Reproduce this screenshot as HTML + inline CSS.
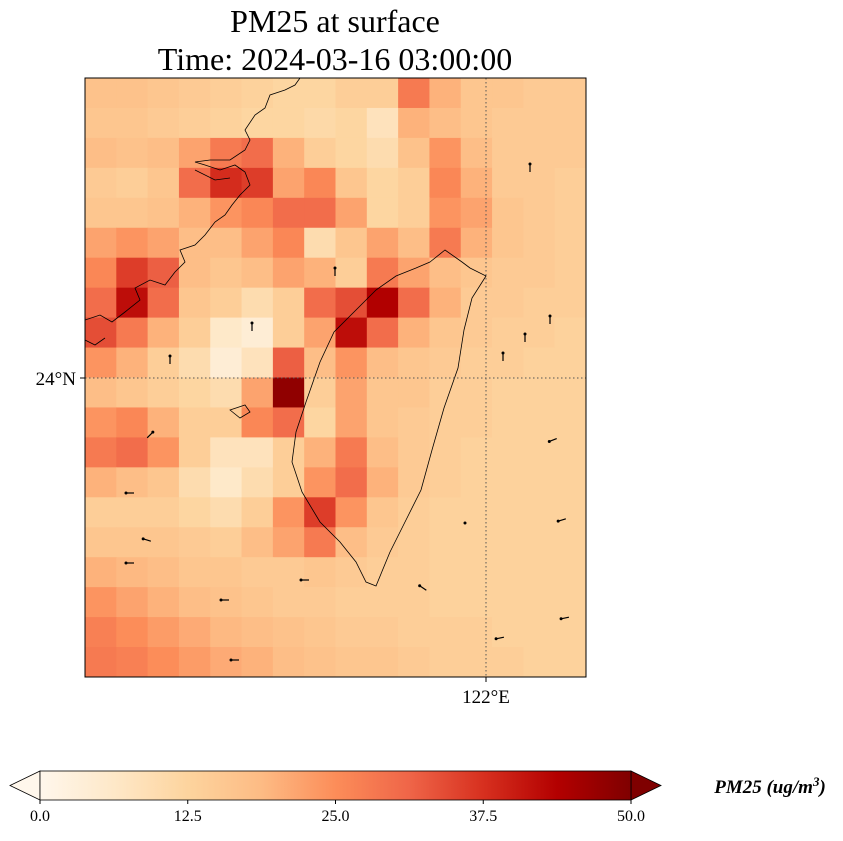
<!DOCTYPE html>
<html><head><meta charset="utf-8"><style>
body{margin:0;background:#fff;width:843px;height:836px;overflow:hidden;font-family:"Liberation Serif",serif;}
svg text{font-family:"Liberation Serif",serif;}
</style></head><body>
<svg id="chart" width="843" height="836" xmlns="http://www.w3.org/2000/svg">
<defs>
<linearGradient id="cbg" x1="0" x2="1" y1="0" y2="0">
<stop offset="0" stop-color="#fff7ec"/><stop offset="0.125" stop-color="#fee8c8"/>
<stop offset="0.25" stop-color="#fdd49e"/><stop offset="0.375" stop-color="#fdbb84"/>
<stop offset="0.5" stop-color="#fc8d59"/><stop offset="0.625" stop-color="#ef6548"/>
<stop offset="0.75" stop-color="#d7301f"/><stop offset="0.875" stop-color="#b30000"/>
<stop offset="1" stop-color="#7f0000"/></linearGradient>
<clipPath id="mapclip"><rect x="85" y="78" width="501" height="599"/></clipPath>
</defs>
<text x="335" y="32" font-size="32" text-anchor="middle">PM25 at surface</text>
<text x="335" y="70" font-size="32" text-anchor="middle">Time: 2024-03-16 03:00:00</text>
<g id="cells" clip-path="url(#mapclip)"></g>
<g clip-path="url(#mapclip)" fill="none" stroke="#000" stroke-width="0.8">
<path d="M430,262 L445,250 L462,262 L470,268 L486,276 L472,298 L464,330 L458,368 L444,408 L432,450 L421,490 L405,522 L390,552 L376,586 L366,582 L356,562 L340,542 L320,522 L302,492 L292,462 L296,432 L306,402 L320,362 L334,332 L356,310 L376,290 L396,276 L416,268 Z"/>
<path d="M85,320 L100,315 L112,322 L125,312 L140,300 L135,288 L150,280 L165,285 L175,272 L185,262 L180,250 L195,245 L205,235 L215,222 L225,215 L232,205 L240,195 L250,185 L245,172 L235,165 L220,170 L205,165 L195,162 L210,160 L230,160 L245,150 L250,140 L245,130 L255,115 L265,108 L270,95 L285,90 L295,85 L300,78 M85,340 L95,345 L105,338 M230,410 L240,418 L250,412 L245,405 Z M195,170 L215,180 L230,178"/>
</g>
<g id="arrows" clip-path="url(#mapclip)"></g>
<line x1="486" y1="78" x2="486" y2="677" stroke="#555" stroke-width="1" stroke-dasharray="1.5,2.5"/>
<line x1="85" y1="378" x2="586" y2="378" stroke="#555" stroke-width="1" stroke-dasharray="1.5,2.5"/>
<rect x="85" y="78" width="501" height="599" fill="none" stroke="#000" stroke-width="1"/>
<line x1="80" y1="378" x2="85" y2="378" stroke="#000"/>
<text x="76" y="385" font-size="19" text-anchor="end">24°N</text>
<line x1="486" y1="677" x2="486" y2="682" stroke="#000"/>
<text x="486" y="703" font-size="19" text-anchor="middle">122°E</text>
<g>
<polygon points="40,771 10,785.5 40,800" fill="#fff7ec" stroke="#000" stroke-width="0.8"/>
<polygon points="631,771 661,785.5 631,800" fill="#7f0000" stroke="#000" stroke-width="0.8"/>
<rect x="40" y="771" width="591" height="29" fill="url(#cbg)" stroke="#000" stroke-width="0.8"/>
<g id="cbticks"></g>
<text x="770" y="793" font-size="19" font-weight="bold" font-style="italic" text-anchor="middle">PM25 (ug/m<tspan dy="-7" font-size="13">3</tspan><tspan dy="7">)</tspan></text>
</g>
</svg>
<script>
const gridValues = [
[17,17,16,15,14,13,12,12,14,14,28,20,16,16,15,15],
[16,16,15,14,13,12,12,11,12,8,20,18,16,15,15,15],
[18,17,18,22,28,30,20,14,12,10,17,24,18,15,15,15],
[15,14,16,30,38,36,22,26,16,12,14,26,20,15,15,14],
[16,16,17,20,24,26,30,30,22,12,14,24,22,16,15,14],
[22,24,22,18,18,22,26,10,16,22,18,28,20,16,15,14],
[26,36,32,18,16,18,22,20,14,28,22,18,16,15,15,14],
[30,42,30,16,14,10,14,30,34,44,30,20,15,15,14,14],
[34,28,20,14,6,4,14,22,42,30,20,16,15,14,14,13],
[24,20,14,10,4,8,32,18,24,18,16,15,14,14,13,13],
[18,16,14,12,10,22,48,14,22,16,16,14,14,13,13,13],
[24,26,20,14,14,26,30,12,22,16,15,14,14,13,13,13],
[28,30,24,14,8,8,14,20,28,18,15,14,13,13,13,13],
[20,18,16,10,6,10,14,24,30,20,15,14,13,13,13,13],
[14,14,14,12,10,14,24,36,24,16,14,13,13,13,13,13],
[16,16,16,15,14,18,22,28,18,15,14,13,13,13,13,13],
[20,19,18,16,16,15,15,16,15,14,14,13,13,13,13,13],
[24,22,20,18,17,16,15,15,14,14,14,13,13,13,13,13],
[27,25,23,21,19,18,17,16,15,15,14,14,14,13,13,13],
[28,27,25,23,21,20,18,17,16,16,15,14,14,14,13,13]
];
const cbTickValues = [0, 12.5, 25, 37.5, 50];
const cbTickLabels = ["0.0","12.5","25.0","37.5","50.0"];
const windX = [530,335,550,525,503,553,562,150,130,147,130,305,225,235,500,565,423,465,252,170];
const windY = [168,272,320,338,357,440,520,435,493,540,563,580,600,660,638,618,588,523,327,360];
const windU = [0,0,0,0,0,-1,-1,0.5,-1,-1,-1,-1,-1,-1,-1,-1,-0.6,0,0,0];
const windV = [1,1,1,1,1,-0.4,-0.3,0.5,0,0.3,0,0,0,0,-0.2,-0.2,0.4,0,1,0.6];

const ns="http://www.w3.org/2000/svg";
const stops=[[0,[255,247,236]],[0.125,[254,232,200]],[0.25,[253,212,158]],[0.375,[253,187,132]],[0.5,[252,141,89]],[0.625,[239,101,72]],[0.75,[215,48,31]],[0.875,[179,0,0]],[1,[127,0,0]]];
function color(v){let t=Math.max(0,Math.min(1,v/50));for(let i=1;i<stops.length;i++){if(t<=stops[i][0]){const a=stops[i-1],b=stops[i];const f=(t-a[0])/(b[0]-a[0]);const c=a[1].map((x,k)=>Math.round(x+(b[1][k]-x)*f));return `rgb(${c})`;}}return "rgb(127,0,0)";}
const X0=85,Y0=78,W=501,H=599;
const nr=gridValues.length,nc=gridValues[0].length;
const cw=W/nc,ch=H/nr;
const xCell=j=>X0+j*cw, yCell=i=>Y0+i*ch;
const cells=document.getElementById('cells');
gridValues.forEach((row,i)=>row.forEach((v,j)=>{
const r=document.createElementNS(ns,'rect');


r.setAttribute('x',xCell(j));r.setAttribute('y',yCell(i));
r.setAttribute('width',cw+0.6);r.setAttribute('height',ch+0.6);
r.setAttribute('fill',color(v));cells.appendChild(r);}));
const arrows=document.getElementById('arrows');
windX.forEach((x,k)=>{const y=windY[k];const L=8;const u=windU[k],v=windV[k];const m=Math.hypot(u,v)||1;
const dx=u/m*L,dy=-v/m*L;
const l=document.createElementNS(ns,'line');


l.setAttribute('x1',x-dx/2);l.setAttribute('y1',y-dy/2);l.setAttribute('x2',x+dx/2);l.setAttribute('y2',y+dy/2);
l.setAttribute('stroke','#000');l.setAttribute('stroke-width','1.2');arrows.appendChild(l);
const h=document.createElementNS(ns,'circle');


h.setAttribute('cx',x+dx/2);h.setAttribute('cy',y+dy/2);h.setAttribute('r','1.5');h.setAttribute('fill','#000');arrows.appendChild(h);});
const cbx=v=>40+v/50*591;
const cbt=document.getElementById('cbticks');
cbTickValues.forEach((v,k)=>{const t=document.createElementNS(ns,'line');


t.setAttribute('x1',cbx(v));t.setAttribute('x2',cbx(v));t.setAttribute('y1',800);t.setAttribute('y2',804);t.setAttribute('stroke','#000');cbt.appendChild(t);
const tx=document.createElementNS(ns,'text');


tx.setAttribute('x',cbx(v));tx.setAttribute('y',821);tx.setAttribute('font-size','16');tx.setAttribute('text-anchor','middle');tx.textContent=cbTickLabels[k];cbt.appendChild(tx);});
</script>
</body></html>
